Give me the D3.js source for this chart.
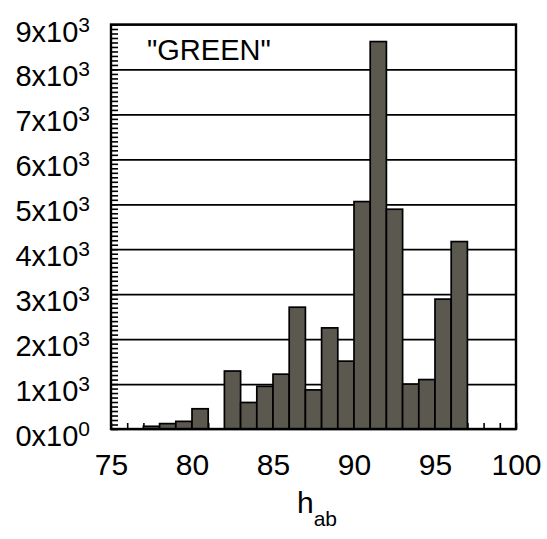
<!DOCTYPE html>
<html>
<head>
<meta charset="utf-8">
<script src="https://cdn.jsdelivr.net/npm/d3@7"></script>
<style>
  html, body { margin: 0; padding: 0; background: #fff; }
  svg text { font-family: "Liberation Sans", Arial, sans-serif; fill: #000; }
</style>
</head>
<body>
<svg id="chart" width="547" height="539"></svg>
<script>
// ---- data ----
const binStarts = [77, 78, 79, 80, 81, 82, 83, 84, 85, 86, 87, 88, 89, 90, 91, 92, 93, 94, 95, 96];
const counts    = [60, 120, 170, 450, 0, 1290, 590, 950, 1220, 2710, 870, 2250, 1510, 5060, 8620, 4890, 1000, 1100, 2890, 4170];
const binWidth = 1;
const xTicks = [75, 80, 85, 90, 95, 100];
const yTicks = [0, 1000, 2000, 3000, 4000, 5000, 6000, 7000, 8000, 9000];
const yTickMant = ["0", "1", "2", "3", "4", "5", "6", "7", "8", "9"];
const yTickExp  = ["0", "3", "3", "3", "3", "3", "3", "3", "3", "3"];
const title = '"GREEN"';
const xTitleMain = "h";
const xTitleSub = "ab";

// ---- layout ----
const L = 111, R = 516, T = 24.5, B = 429;
const svg = d3.select("#chart");
const x = d3.scaleLinear().domain([75, 100]).range([L, R]);
const y = d3.scaleLinear().domain([0, 9000]).range([B, T]);

// minor y ticks (every 100), pointing inward
const yMinor = d3.range(0, 9001, 100);
const yMinorAxis = d3.axisRight(y).tickValues(yMinor).tickSize(7).tickFormat("");
const gYm = svg.append("g").attr("transform", `translate(${L},0)`).call(yMinorAxis);
gYm.select(".domain").remove();
gYm.selectAll("line").attr("stroke", "#000").attr("stroke-width", 1.6);

// minor x ticks (every 1), pointing inward (upwards)
const xMinor = d3.range(75, 101, 1);
const xMinorAxis = d3.axisTop(x).tickValues(xMinor).tickSize(6).tickFormat("");
const gXm = svg.append("g").attr("transform", `translate(0,${B})`).call(xMinorAxis);
gXm.select(".domain").remove();
gXm.selectAll("line").attr("stroke", "#000").attr("stroke-width", 1.6);

// gridlines at major y ticks
const grid = d3.axisRight(y).tickValues(yTicks).tickSize(R - L).tickFormat("");
const gG = svg.append("g").attr("transform", `translate(${L},0)`).call(grid);
gG.select(".domain").remove();
gG.selectAll("line").attr("stroke", "#000").attr("stroke-width", 1.7);

// bars
svg.append("g").selectAll("rect")
  .data(binStarts.map((b, i) => ({ b, c: counts[i] })).filter(d => d.c > 0))
  .join("rect")
  .attr("x", d => x(d.b))
  .attr("width", d => x(d.b + binWidth) - x(d.b))
  .attr("y", d => y(d.c))
  .attr("height", d => y(0) - y(d.c))
  .attr("fill", "rgb(91,88,80)")
  .attr("stroke", "#000")
  .attr("stroke-width", 1.7);

// frame
svg.append("rect")
  .attr("x", L).attr("y", T).attr("width", R - L).attr("height", B - T)
  .attr("fill", "none").attr("stroke", "#000").attr("stroke-width", 2.4);

// y tick labels
const yl = svg.append("g").selectAll("text")
  .data(yTicks.map((v, i) => ({ v, m: yTickMant[i], e: yTickExp[i] })))
  .join("text")
  .attr("x", 90)
  .attr("y", d => y(d.v) + 17)
  .attr("text-anchor", "end")
  .style("font-size", "29px");
yl.append("tspan").text(d => d.m + "x10");
yl.append("tspan").attr("dy", -10).style("font-size", "21px").text(d => d.e);

// x tick labels
const xAxis = d3.axisBottom(x).tickValues(xTicks).tickSize(0).tickPadding(0).tickFormat(d3.format("d"));
const gX = svg.append("g").attr("transform", `translate(0,${B})`).call(xAxis);
gX.select(".domain").remove();
gX.selectAll("text")
  .attr("dy", null).attr("y", 46)
  .style("font-size", "30px")
  .style("font-family", '"Liberation Sans", Arial, sans-serif')
  .attr("fill", "#000");

// x axis title
const xt = svg.append("text")
  .attr("x", 317).attr("y", 513)
  .attr("text-anchor", "middle")
  .style("font-size", "30px");
xt.append("tspan").text(xTitleMain);
xt.append("tspan").attr("dy", 13).style("font-size", "21px").text(xTitleSub);

// title
svg.append("text")
  .attr("x", 147).attr("y", 60)
  .style("font-size", "29px")
  .text(title);
</script>
</body>
</html>
